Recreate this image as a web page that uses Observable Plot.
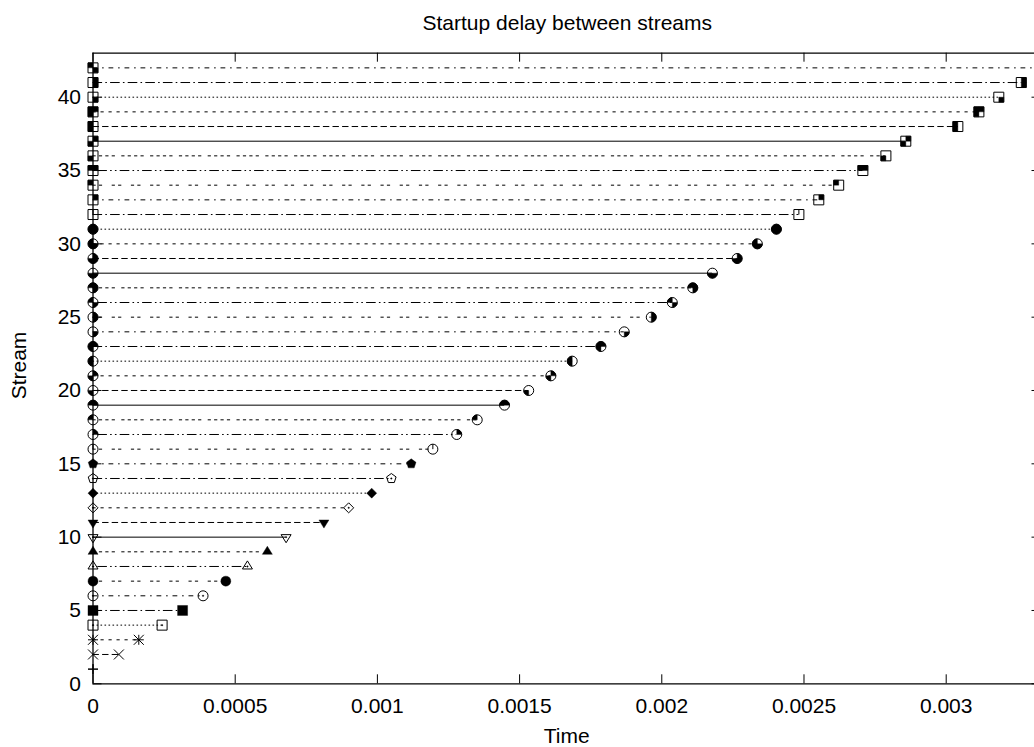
<!DOCTYPE html>
<html><head><meta charset="utf-8">
<script src="https://cdn.jsdelivr.net/npm/d3@7"></script>
<script src="https://cdn.jsdelivr.net/npm/@observablehq/plot@0.6"></script>
<style>
html,body{margin:0;padding:0;background:#fff;overflow:hidden;}
#chart svg{display:block;max-width:none;}
</style></head><body><div id="chart"></div>
<script>
// ---- data ----
const titleText = "Startup delay between streams";
const xLabel = "Time";
const yLabel = "Stream";
const streams = [1,2,3,4,5,6,7,8,9,10,11,12,13,14,15,16,17,18,19,20,21,22,23,24,25,26,27,28,29,30,31,32,33,34,35,36,37,38,39,40,41,42];
const startTime = 0;
const endTimes = [0, 0.000091, 0.000161, 0.000243, 0.000315, 0.000387, 0.000467, 0.000543, 0.000613, 0.000679,
  0.000812, 0.000899, 0.000980, 0.001049, 0.001119, 0.001195, 0.001279, 0.001351, 0.001447, 0.001532,
  0.001610, 0.001685, 0.001786, 0.001868, 0.001963, 0.002037, 0.002109, 0.002178, 0.002265, 0.002336,
  0.002403, 0.002482, 0.002552, 0.002622, 0.002707, 0.002788, 0.002858, 0.003041, 0.003115, 0.003185,
  0.003264, 0.003400];
const xTicks = [0, 0.0005, 0.001, 0.0015, 0.002, 0.0025, 0.003];
const xTickLabels = ["0", "0.0005", "0.001", "0.0015", "0.002", "0.0025", "0.003"];
const yTicks = [0, 5, 10, 15, 20, 25, 30, 35, 40];
const yTickLabels = ["0", "5", "10", "15", "20", "25", "30", "35", "40"];
const xDomain = [0, 0.0033105];
const yDomain = [0, 43];

// ---- layout / style ----
const W = 1034, H = 747;
const mL = 92.5, mR = 0, mT = 52.7, mB = 63.7;
const plotW = W - mL - mR, plotH = H - mT - mB;
const HPT = 5;
const DL = 1.6;
const dashTypes = [null, [4,2], [2,3], [1,1.5], [6,2,1,2], [3,3,1,3], [2,2,2,6], [1,2,6,2,1,2], [2,2,2,2,2,2,2,4]];

const rows = streams.map((s, i) => ({stream: s, start: startTime, end: endTimes[i]}));
const points = rows.flatMap(r => [{stream: r.stream, t: r.start}, {stream: r.stream, t: r.end}]);

// ---- gnuplot-like point symbols ----
const mk = f => ({draw(ctx, size) { f(ctx, Math.sqrt(size / Math.PI)); }});
const pnt = (c) => { c.moveTo(0.75, 0); c.arc(0, 0, 0.75, 0, 2 * Math.PI); };
const box = (c, h) => { c.rect(-h, -h, 2 * h, 2 * h); };
const circ = (c, h) => { c.moveTo(h, 0); c.arc(0, 0, h, 0, 2 * Math.PI); };
const triU = (c, h) => { c.moveTo(0, -1.12 * h); c.lineTo(-h, 0.5 * h); c.lineTo(h, 0.5 * h); c.closePath(); };
const triD = (c, h) => { c.moveTo(0, 1.12 * h); c.lineTo(-h, -0.5 * h); c.lineTo(h, -0.5 * h); c.closePath(); };
const dia = (c, h) => { c.moveTo(0, -h); c.lineTo(-h, 0); c.lineTo(0, h); c.lineTo(h, 0); c.closePath(); };
const pent = (c, h) => {
  for (let k = 0; k < 5; k++) {
    const a = -Math.PI / 2 + k * 2 * Math.PI / 5;
    const x = h * Math.cos(a), y = h * Math.sin(a);
    if (k) c.lineTo(x, y); else c.moveTo(x, y);
  }
  c.closePath();
};
const plus = (c, h) => { c.moveTo(0, -h); c.lineTo(0, h); c.moveTo(-h, 0); c.lineTo(h, 0); };
const cross = (c, h) => { c.moveTo(-h, -h); c.lineTo(h, h); c.moveTo(-h, h); c.lineTo(h, -h); };
const quads = {
  circ: [
    (c, h) => { c.moveTo(0, 0); c.arc(0, 0, h, -Math.PI / 2, 0); c.closePath(); },
    (c, h) => { c.moveTo(0, 0); c.arc(0, 0, h, -Math.PI, -Math.PI / 2); c.closePath(); },
    (c, h) => { c.moveTo(0, 0); c.arc(0, 0, h, Math.PI / 2, Math.PI); c.closePath(); },
    (c, h) => { c.moveTo(0, 0); c.arc(0, 0, h, 0, Math.PI / 2); c.closePath(); }
  ],
  sq: [
    (c, h) => c.rect(0, -h, h, h),
    (c, h) => c.rect(-h, -h, h, h),
    (c, h) => c.rect(-h, 0, h, h),
    (c, h) => c.rect(0, 0, h, h)
  ]
};
const patternFill = (kind, p) => p === 0 ? null :
  mk((c, h) => { for (let b = 0; b < 4; b++) if (p & (1 << b)) quads[kind][b](c, h); });

function markerFor(n) {
  switch (n) {
    case 1: return {stroke: mk(plus)};
    case 2: return {stroke: mk(cross)};
    case 3: return {stroke: mk((c, h) => { plus(c, h); cross(c, h); })};
    case 4: return {stroke: mk(box), fill: mk(pnt)};
    case 5: return {fill: mk(box)};
    case 6: return {stroke: mk(circ), fill: mk(pnt)};
    case 7: return {fill: mk(circ)};
    case 8: return {stroke: mk(triU), fill: mk(pnt)};
    case 9: return {fill: mk(triU)};
    case 10: return {stroke: mk(triD), fill: mk(pnt)};
    case 11: return {fill: mk(triD)};
    case 12: return {stroke: mk(dia), fill: mk(pnt)};
    case 13: return {fill: mk(dia)};
    case 14: return {stroke: mk(pent), fill: mk(pnt)};
    case 15: return {fill: mk(pent)};
  }
  if (n <= 31) {
    const p = n - 16;
    return {stroke: mk((c, h) => { if (p === 0) { c.moveTo(0, 0); c.lineTo(0, -h); } circ(c, h); }), fill: patternFill("circ", p)};
  }
  const p = (n - 32) % 16;
  return {stroke: mk((c, h) => { if (p === 0) { c.moveTo(0, 0); c.lineTo(0, -h); } box(c, h); }), fill: patternFill("sq", p)};
}

// ---- marks ----
const marks = [];
// stream lines by gnuplot line type
for (let k = 0; k < 9; k++) {
  const data = rows.filter(r => (r.stream - 1) % 9 === k);
  const opts = {y: "stream", x1: "start", x2: "end", stroke: "black", strokeWidth: 1};
  if (dashTypes[k]) opts.strokeDasharray = dashTypes[k].map(v => v * DL).join(",");
  marks.push(Plot.ruleY(data, opts));
}
// border (left, bottom, top)
marks.push(Plot.ruleX([xDomain[0]], {stroke: "black", strokeWidth: 1.3}));
marks.push(Plot.ruleY([yDomain[0]], {stroke: "black", strokeWidth: 1.3}));
marks.push(Plot.ruleY([yDomain[1]], {stroke: "black", strokeWidth: 1.3}));
// inward ticks
marks.push(Plot.tickX(xTicks, {x: d => d, insetTop: plotH - 9, stroke: "black", strokeWidth: 1}));
marks.push(Plot.tickX(xTicks, {x: d => d, insetBottom: plotH - 9, stroke: "black", strokeWidth: 1}));
marks.push(Plot.tickY(yTicks, {y: d => d, insetRight: plotW - 9, stroke: "black", strokeWidth: 1}));
marks.push(Plot.tickY(yTicks, {y: d => d, insetLeft: plotW - 2.5, stroke: "black", strokeWidth: 1}));
// point markers
for (const n of streams) {
  const spec = markerFor(n);
  const pts = points.filter(p => p.stream === n);
  if (spec.stroke) marks.push(Plot.dot(pts, {x: "t", y: "stream", r: HPT, symbol: spec.stroke, stroke: "black", fill: "none", strokeWidth: 1}));
  if (spec.fill) marks.push(Plot.dot(pts, {x: "t", y: "stream", r: HPT, symbol: spec.fill, fill: "black", stroke: "black", strokeWidth: 0.4}));
}
// axes labels
marks.push(Plot.axisX({ticks: xTicks, tickSize: 0, tickPadding: 14, label: null,
  tickFormat: d => xTickLabels[xTicks.indexOf(d)]}));
marks.push(Plot.axisY({ticks: yTicks, tickSize: 0, tickPadding: 12, label: null,
  tickFormat: d => yTickLabels[yTicks.indexOf(d)]}));
// titles
marks.push(Plot.text([titleText], {text: d => d, frameAnchor: "top", textAnchor: "middle", lineAnchor: "middle", dy: -30.2, dx: 3.5, fill: "black"}));
marks.push(Plot.text([xLabel], {text: d => d, frameAnchor: "bottom", textAnchor: "middle", lineAnchor: "middle", dy: 52.2, dx: 3, fill: "black"}));
marks.push(Plot.text([yLabel], {text: d => d, frameAnchor: "left", textAnchor: "middle", lineAnchor: "middle", dx: -73.5, dy: -3, rotate: -90, fill: "black"}));

const chart = Plot.plot({
  width: W, height: H,
  marginLeft: mL, marginRight: mR, marginTop: mT, marginBottom: mB,
  x: {domain: xDomain, type: "linear"},
  y: {domain: yDomain, type: "linear"},
  style: {fontFamily: "'Liberation Sans', Arial, Helvetica, sans-serif", fontSize: "21px", color: "black", background: "white", overflow: "hidden"},
  marks
});
document.getElementById("chart").appendChild(chart);
</script></body></html>
